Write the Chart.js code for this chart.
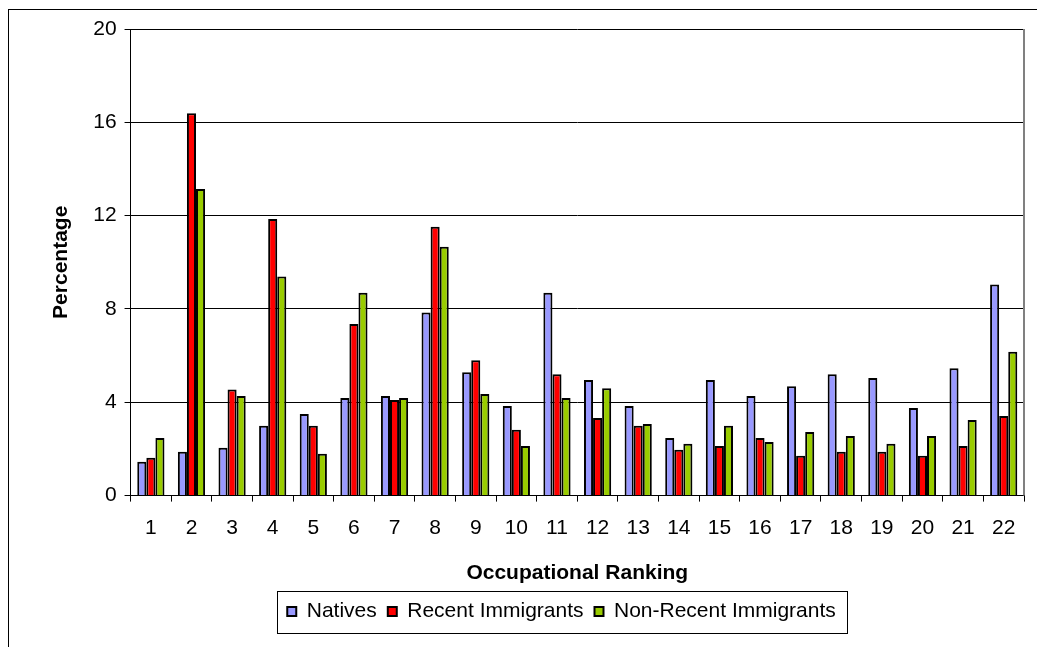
<!DOCTYPE html>
<html>
<head>
<meta charset="utf-8">
<script src="https://cdn.jsdelivr.net/npm/chart.js@4/dist/chart.umd.min.js"></script>
<style>
  html, body { margin: 0; padding: 0; background: #fff; }
  #wrap { width: 1037px; height: 647px; }
</style>
</head>
<body>
<div id="wrap"><canvas id="occChart" width="1037" height="647"></canvas></div>
<script>
const rankings = ['1','2','3','4','5','6','7','8','9','10','11','12','13','14','15','16','17','18','19','20','21','22'];
const natives = [1.45, 1.88, 2.05, 2.99, 3.5, 4.18, 4.27, 7.85, 5.29, 3.84, 8.7, 4.95, 3.84, 2.47, 4.95, 4.27, 4.69, 5.2, 5.04, 3.76, 5.46, 9.05];
const recentImm = [1.62, 16.39, 4.55, 11.86, 2.99, 7.35, 4.1, 11.52, 5.8, 2.82, 5.2, 3.33, 2.99, 1.96, 2.13, 2.47, 1.71, 1.88, 1.88, 1.71, 2.13, 3.41];
const nonRecentImm = [2.47, 13.14, 4.27, 9.39, 1.79, 8.7, 4.18, 10.67, 4.35, 2.13, 4.18, 4.6, 3.07, 2.22, 2.99, 2.3, 2.73, 2.56, 2.22, 2.56, 3.24, 6.17];
const yTicks = [0, 4, 8, 12, 16, 20];

const FONT = '"Liberation Sans", Arial, sans-serif';

// frame around the whole chart, grey right edge on plot area, box round the legend
const decorPlugin = {
	id: 'decor',
	afterUpdate(chart){
		const lg = chart.legend;
		if(!lg || !lg.legendHitBoxes.length) return;
		const boxes = lg.legendHitBoxes;
		const minX = Math.min(...boxes.map(b => b.left));
		const maxX = Math.max(...boxes.map(b => b.left + b.width));
		const dx = 561.5 - (minX + maxX) / 2;
		lg.left += dx; lg.right += dx;
		boxes.forEach(b => { b.left += dx; });
	},
	afterDraw(chart){
		const ctx = chart.ctx;
		const a = chart.chartArea;
		ctx.save();
		ctx.strokeStyle = '#000';
		ctx.lineWidth = 1;
		ctx.strokeRect(8.5, 9.5, 1200, 1000);

		ctx.strokeStyle = '#808080';
		ctx.lineWidth = 2;
		ctx.beginPath();
		ctx.moveTo(a.right, a.top);
		ctx.lineTo(a.right, a.bottom);
		ctx.stroke();

		const lg = chart.legend;
		if(lg && lg.legendHitBoxes.length){
			const boxes = lg.legendHitBoxes;
			const minX = Math.min(...boxes.map(b => b.left));
			const maxX = Math.max(...boxes.map(b => b.left + b.width));
			const cy = boxes[0].top + boxes[0].height / 2;
			ctx.strokeStyle = '#000';
			ctx.lineWidth = 1;
			ctx.strokeRect(Math.round(minX - 10) + 0.5, Math.round(cy - 21) + 0.5, Math.round(maxX - minX + 22), 42);
		}
		ctx.restore();
	}
};

const ctx = document.getElementById('occChart').getContext('2d');
new Chart(ctx, {
	type: 'bar',
	data: {
		labels: rankings,
		datasets: [
			{ label: 'Natives', data: natives, backgroundColor: '#9999FF', borderColor: '#000', borderWidth: 2 },
			{ label: 'Recent Immigrants', data: recentImm, backgroundColor: '#FF0000', borderColor: '#000', borderWidth: 2 },
			{ label: 'Non-Recent Immigrants', data: nonRecentImm, backgroundColor: '#99CC00', borderColor: '#000', borderWidth: 2 }
		]
	},
	options: {
		responsive: false,
		animation: false,
		devicePixelRatio: 1,
		categoryPercentage: 0.67,
		barPercentage: 1.0,
		layout: { padding: { left: 20, right: 13, top: 29, bottom: 15 } },
		scales: {
			x: {
				grid: { display: true, drawOnChartArea: false, drawTicks: true, tickLength: 6, color: '#000', offset: true },
				border: { display: true, color: '#000', width: 1 },
				ticks: { color: '#000', font: { family: FONT, size: 21 }, padding: 14, maxRotation: 0, autoSkip: false },
				title: { display: true, text: 'Occupational Ranking', color: '#000', font: { family: FONT, size: 21, weight: 'bold' }, padding: { top: 6, bottom: 4 } }
			},
			y: {
				min: 0, max: 20,
				afterBuildTicks(scale){ scale.ticks = yTicks.map(v => ({ value: v })); },
				grid: { color: '#000', lineWidth: 1, drawTicks: true, tickLength: 6 },
				border: { display: true, color: '#000', width: 1 },
				ticks: { color: '#000', font: { family: FONT, size: 21 }, padding: 8 },
				title: { display: true, text: 'Percentage', color: '#000', font: { family: FONT, size: 21, weight: 'bold' }, padding: { top: 29, bottom: 11 } }
			}
		},
		plugins: {
			legend: {
				position: 'bottom',
				labels: { color: '#000', font: { family: FONT, size: 21 }, boxWidth: 9, boxHeight: 9, padding: 11 }
			},
			tooltip: { enabled: false }
		}
	},
	plugins: [decorPlugin]
});
</script>
</body>
</html>
